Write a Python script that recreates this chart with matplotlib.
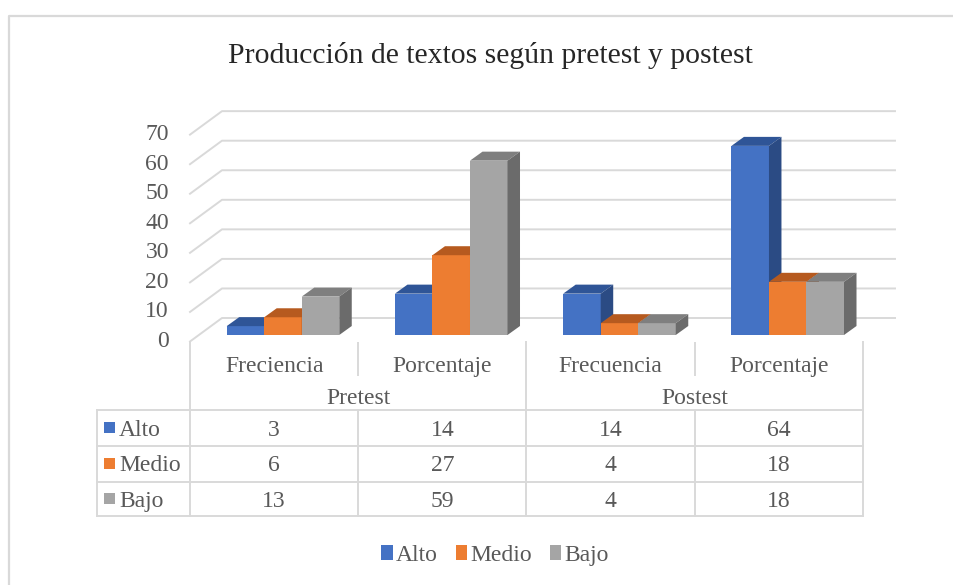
import numpy as np
import matplotlib.pyplot as plt
from matplotlib.patches import Polygon, Rectangle, Patch
from matplotlib.transforms import IdentityTransform

plt.rcParams['font.family'] = ['Liberation Serif', 'DejaVu Serif']

title = "Producción de textos según pretest y postest"
groups = ["Pretest", "Postest"]
categories = ["Freciencia", "Porcentaje", "Frecuencia", "Porcentaje"]
series = ["Alto", "Medio", "Bajo"]
alto = [3, 14, 14, 64]
medio = [6, 27, 4, 18]
bajo = [13, 59, 4, 18]
yticks = [0, 10, 20, 30, 40, 50, 60, 70]

values = [alto, medio, bajo]
colors = ["#4472C4", "#ED7D31", "#A5A5A5"]
tops = ["#2F5597", "#B65A1F", "#7F7F7F"]
sides = ["#2B4B84", "#A14E1B", "#6B6B6B"]
grid_c = "#d9d9d9"
text_c = "#595959"
fs = 17

W, H = 954, 585
fig = plt.figure(figsize=(W / 100, H / 100), dpi=100)

# overlay in pixel coords (y down) for frame, title, table
ov = fig.add_axes([0, 0, 1, 1])
ov.set_xlim(0, W)
ov.set_ylim(H, 0)
ov.axis('off')

# bar plane
ax = fig.add_axes([198.85 / W, (H - 335) / H, 673 / W, 2.955 * 70 / H])
ax.set_xlim(-0.5, len(categories) - 0.5)
ax.set_ylim(0, 70)
ax.axis('off')

depth = np.array([12.5, 9.0])     # bar depth in px
back = np.array([23.15, 17.0])    # back wall from bar plane
front = np.array([-8.85, -6.5])   # front edge from bar plane
ident = IdentityTransform()


def px(x, y):
    return ax.transData.transform((x, y))


# walls
x_left, x_right = -0.5, len(categories) - 0.5
for v in yticks:
    bl = px(x_left, v) + back
    br = px(x_right, v) + back
    fl = px(x_left, v) + front
    ax.plot([fl[0], bl[0], br[0]], [fl[1], bl[1], br[1]], color=grid_c,
            lw=1.4, transform=ident, clip_on=False, zorder=0)
    ax.text(fl[0] - 21, fl[1], str(v), ha='right', va='center', fontsize=fs,
            color=text_c, transform=ident)

# bars
w = 0.223
n = len(series)
for i in range(n):
    xs = np.arange(len(categories)) + (i - 1) * w
    bars = ax.bar(xs, values[i], width=w, color=colors[i], clip_on=False)
    for j, b in enumerate(bars):
        z = 3 + j * 3 + i
        b.set_zorder(z)
        x0, x1 = xs[j] - w / 2, xs[j] + w / 2
        h = values[i][j]
        p00, p10 = px(x0, h), px(x1, h)
        top = [p00, p10, p10 + depth, p00 + depth]
        q0, q1 = px(x1, 0), px(x1, h)
        side = [q0, q1, q1 + depth, q0 + depth]
        ax.add_patch(Polygon(top, closed=True, facecolor=tops[i], edgecolor='none',
                             transform=ident, zorder=z, clip_on=False))
        ax.add_patch(Polygon(side, closed=True, facecolor=sides[i], edgecolor='none',
                             transform=ident, zorder=z, clip_on=False))

# frame
ov.plot([9, 9, W], [H, 16, 16], color=grid_c, lw=1.6)

# title
ov.text(490, 63, title, ha='center', va='baseline', fontsize=21.3, color='#262626')

# table
edges = [px(k - 0.5, 0)[0] + front[0] for k in range(len(categories) + 1)]
y_top = H - (px(0, 0)[1] + front[1])
row_y = [410, 446, 481.5, 516]
left = 97
lk = dict(color=grid_c, lw=1.4)
for y in row_y:
    ov.plot([left, edges[-1]], [y, y], **lk)
ov.plot([left, left], [row_y[0], row_y[-1]], **lk)
for k, x in enumerate(edges):
    if k % 2 == 0:
        ov.plot([x, x], [y_top, row_y[-1]], **lk)
    else:
        ov.plot([x, x], [y_top + 1.5, 375], **lk)
        ov.plot([x, x], [row_y[0], row_y[-1]], **lk)

for k, cat in enumerate(categories):
    xc = (edges[k] + edges[k + 1]) / 2
    ov.text(xc, 372, cat, ha='center', va='baseline', fontsize=fs, color=text_c)
for g, grp in enumerate(groups):
    xc = (edges[2 * g] + edges[2 * g + 2]) / 2
    ov.text(xc, 404, grp, ha='center', va='baseline', fontsize=fs, color=text_c)

baselines = [435.7, 471, 506.7]
for i, name in enumerate(series):
    yb = baselines[i]
    ov.add_patch(Rectangle((104, yb - 13.5), 11, 11, facecolor=colors[i], edgecolor='none'))
    ov.text(119, yb, name, ha='left', va='baseline', fontsize=fs, color=text_c)
    for k in range(len(categories)):
        xc = (edges[k] + edges[k + 1]) / 2
        ov.text(xc, yb, str(values[i][k]), ha='center', va='baseline',
                fontsize=fs, color=text_c)

# legend
handles = [Patch(facecolor=c, edgecolor='none', label=s) for c, s in zip(colors, series)]
leg = fig.legend(handles=handles, loc='center', bbox_to_anchor=(495 / W, 1 - 555.5 / H),
                 ncol=3, frameon=False, fontsize=fs, handlelength=0.5, handleheight=0.62,
                 handletextpad=0.12, columnspacing=0.75, borderpad=0)
for t in leg.get_texts():
    t.set_color(text_c)

fig.savefig("out.png", dpi=100)
